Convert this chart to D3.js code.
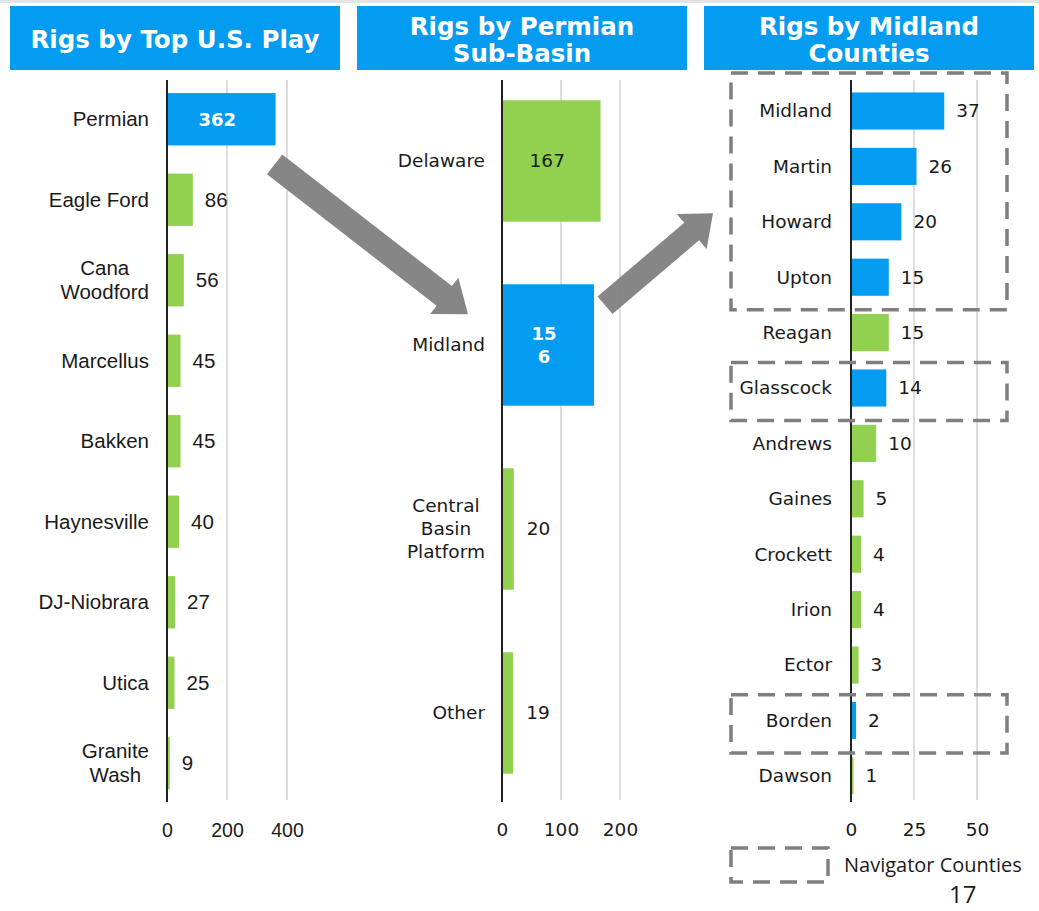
<!DOCTYPE html>
<html>
<head>
<meta charset="utf-8">
<script src="https://cdn.jsdelivr.net/npm/d3@7"></script>
<style>
  body { margin: 0; background: #fff; }
  svg { display: block; }
</style>
</head>
<body>
<div id="chart"></div>
<script>
// ---- data ----
const playNames = ["Permian", "Eagle Ford", "Cana\nWoodford", "Marcellus", "Bakken",
                   "Haynesville", "DJ-Niobrara", "Utica", "Granite\nWash"];
const playRigs = [362, 86, 56, 45, 45, 40, 27, 25, 9];
const playTicks = [0, 200, 400];

const basinNames = ["Delaware", "Midland", "Central\nBasin\nPlatform", "Other"];
const basinRigs = [167, 156, 20, 19];
const basinTicks = [0, 100, 200];

const countyNames = ["Midland", "Martin", "Howard", "Upton", "Reagan", "Glasscock", "Andrews",
                     "Gaines", "Crockett", "Irion", "Ector", "Borden", "Dawson"];
const countyRigs = [37, 26, 20, 15, 15, 14, 10, 5, 4, 4, 3, 2, 1];
const countyTicks = [0, 25, 50];

const navigatorCounties = ["Midland", "Martin", "Howard", "Upton", "Glasscock", "Borden"];
const navigatorGroups = [["Midland", "Upton"], ["Glasscock", "Glasscock"], ["Borden", "Borden"]];

const blue = "#049cf0", green = "#92d050", grey = "#7f7f7f";
const verdana = "'DejaVu Sans', Verdana, sans-serif";
const arial = "'Liberation Sans', Arial, sans-serif";

const W = 1039, H = 911;
const svg = d3.select("#chart").append("svg")
    .attr("width", W).attr("height", H);

svg.append("rect").attr("x", 0).attr("y", 0).attr("width", W).attr("height", 3).attr("fill", "#e4e4e4");

// title boxes
function title(x0, lines) {
    svg.append("rect").attr("x", x0).attr("y", 6).attr("width", 330).attr("height", 64).attr("fill", blue);
    const t = svg.append("text")
        .attr("text-anchor", "middle")
        .attr("fill", "#fff")
        .style("font-family", verdana)
        .style("font-weight", "bold")
        .style("font-size", "24.5px");
    const y0 = lines.length === 1 ? 48 : 35;
    lines.forEach((l, i) => t.append("tspan").attr("x", x0 + 165).attr("y", y0 + i * 27).text(l));
}
title(10, ["Rigs by Top U.S. Play"]);
title(357, ["Rigs by Permian", "Sub-Basin"]);
title(704, ["Rigs by Midland", "Counties"]);

function multiline(g, lines, xRight, yc, lh, font, size) {
    const t = g.append("text")
        .style("font-family", font).style("font-size", size + "px").attr("fill", "#1a1a1a");
    const sp = lines.map((l, i) => t.append("tspan")
        .attr("y", yc + (i - (lines.length - 1) / 2) * lh)
        .attr("dy", "0.35em").text(l));
    const maxW = d3.max(sp, s => s.node().getComputedTextLength());
    sp.forEach(s => s.attr("x", xRight - maxW / 2).attr("text-anchor", "middle"));
}

function panel(o) {
    const g = svg.append("g");
    const x = d3.scaleLinear().domain([0, o.ticks[o.ticks.length - 1]]).range(o.xRange);
    const y = d3.scaleBand().domain(o.names).range(o.yRange).paddingInner(o.pad).paddingOuter(o.pad / 2);

    // gridlines
    g.selectAll(".grid").data(o.ticks.slice(1)).join("line")
        .attr("x1", d => x(d)).attr("x2", d => x(d))
        .attr("y1", 80).attr("y2", 800)
        .attr("stroke", "#c6c6c6").attr("stroke-width", 1.2);

    // bars
    g.selectAll(".bar").data(o.names).join("rect")
        .attr("x", x(0))
        .attr("y", d => y(d))
        .attr("width", (d, i) => x(o.values[i]) - x(0))
        .attr("height", y.bandwidth())
        .attr("fill", d => o.isBlue(d) ? blue : green);

    // axis line
    g.append("line").attr("x1", x(0)).attr("x2", x(0)).attr("y1", 80).attr("y2", 802)
        .attr("stroke", "#222").attr("stroke-width", 2);

    // tick labels
    const ax = g.append("g").attr("transform", "translate(0,830)")
        .call(d3.axisBottom(x).tickValues(o.ticks).tickSize(0).tickPadding(0));
    ax.select(".domain").remove();
    ax.selectAll("text").attr("dy", "0.35em").attr("fill", "#1a1a1a")
        .style("font-family", o.font).style("font-size", o.tickSize + "px");

    // category labels
    o.names.forEach(n => {
        multiline(g, n.split("\n"), o.labelRight, y(n) + y.bandwidth() / 2, o.lh, o.font, o.size);
    });

    // value labels
    o.names.forEach((n, i) => {
        const v = o.values[i];
        const yc = y(n) + y.bandwidth() / 2;
        const inside = x(v) - x(0) > o.insideMin;
        const white = inside && o.isBlue(n);
        let lines = [String(v)];
        if (white && o.wrapInside) lines = [String(v).slice(0, 2), String(v).slice(2)];
        const t = g.append("text")
            .attr("text-anchor", inside ? "middle" : "start")
            .attr("fill", white ? "#fff" : "#1a1a1a")
            .style("font-family", white ? verdana : o.valueFont)
            .style("font-weight", white ? "bold" : "normal")
            .style("font-size", (white ? 18 : o.valueSize) + "px");
        lines.forEach((l, k) => t.append("tspan")
            .attr("x", inside ? (x(0) + x(v)) / 2 - 4 : x(v) + o.gap)
            .attr("y", yc + (k - (lines.length - 1) / 2) * 23)
            .attr("dy", "0.35em").text(l));
    });
    return {x, y};
}

const p1 = panel({
    names: playNames, values: playRigs, ticks: playTicks,
    xRange: [167, 287], yRange: [79, 803.5], pad: 0.35, insideMin: 80,
    isBlue: d => d === "Permian",
    labelRight: 149, lh: 24, font: arial, size: 20.5, tickSize: 19.5,
    valueFont: arial, valueSize: 20.5, gap: 12
});

const p2 = panel({
    names: basinNames, values: basinRigs, ticks: basinTicks,
    xRange: [502, 620], yRange: [69, 805], pad: 0.34, insideMin: 80,
    isBlue: d => d === "Midland", wrapInside: true,
    labelRight: 485, lh: 23, font: verdana, size: 18.5, tickSize: 18.5,
    valueFont: verdana, valueSize: 18.5, gap: 13
});

const p3 = panel({
    names: countyNames, values: countyRigs, ticks: countyTicks,
    xRange: [851, 977], yRange: [83.3, 803.5], pad: 0.33, insideMin: 1000,
    isBlue: d => navigatorCounties.includes(d),
    labelRight: 832, lh: 23, font: verdana, size: 18.5, tickSize: 18.5,
    valueFont: verdana, valueSize: 18.5, gap: 12
});

// dashed navigator boxes
const dash = {stroke: grey, "stroke-width": 3.5, "stroke-dasharray": "17 10", fill: "none"};
navigatorGroups.forEach(([a, b], i) => {
    const top = i === 0 ? 73 : p3.y(a) - 7;
    const bot = p3.y(b) + p3.y.bandwidth() + 14;
    const r = svg.append("rect").attr("x", 731).attr("y", top).attr("width", 276).attr("height", bot - top);
    Object.entries(dash).forEach(([k, v]) => r.attr(k, v));
});

// legend
const lr = svg.append("rect").attr("x", 731).attr("y", 848).attr("width", 97).attr("height", 34);
Object.entries(dash).forEach(([k, v]) => lr.attr(k, v));
svg.append("text").attr("x", 844).attr("y", 872)
    .style("font-family", "'Open Sans', sans-serif").style("font-size", "20px").attr("fill", "#1a1a1a")
    .text("Navigator Counties");
svg.append("text").attr("x", 949).attr("y", 903)
    .style("font-family", "'Open Sans', sans-serif").style("font-size", "24px").attr("fill", "#1a1a1a")
    .text("17");

// arrows
function arrow(tail, tip, shaftW, headW, headL) {
    const dx = tip[0] - tail[0], dy = tip[1] - tail[1];
    const len = Math.hypot(dx, dy);
    const ux = dx / len, uy = dy / len, nx = -uy, ny = ux;
    const bx = tip[0] - ux * headL, by = tip[1] - uy * headL;
    const pts = [
        [tail[0] + nx * shaftW / 2, tail[1] + ny * shaftW / 2],
        [bx + nx * shaftW / 2, by + ny * shaftW / 2],
        [bx + nx * headW / 2, by + ny * headW / 2],
        tip,
        [bx - nx * headW / 2, by - ny * headW / 2],
        [bx - nx * shaftW / 2, by - ny * shaftW / 2],
        [tail[0] - nx * shaftW / 2, tail[1] - ny * shaftW / 2]
    ];
    svg.append("polygon").attr("points", pts.map(p => p.join(",")).join(" "))
        .attr("fill", grey).attr("opacity", 0.95);
}
const permY = p1.y("Permian") + p1.y.bandwidth();
arrow([p1.x(362) - 1, permY + 19], [p2.x(0) - 34, p2.y("Midland") + 30], 25, 46, 30);
arrow([p2.x(156) + 11, p2.y("Midland") + 21], [p3.x(0) - 138, p3.y("Howard") + 10], 23, 46, 28);
</script>
</body>
</html>
